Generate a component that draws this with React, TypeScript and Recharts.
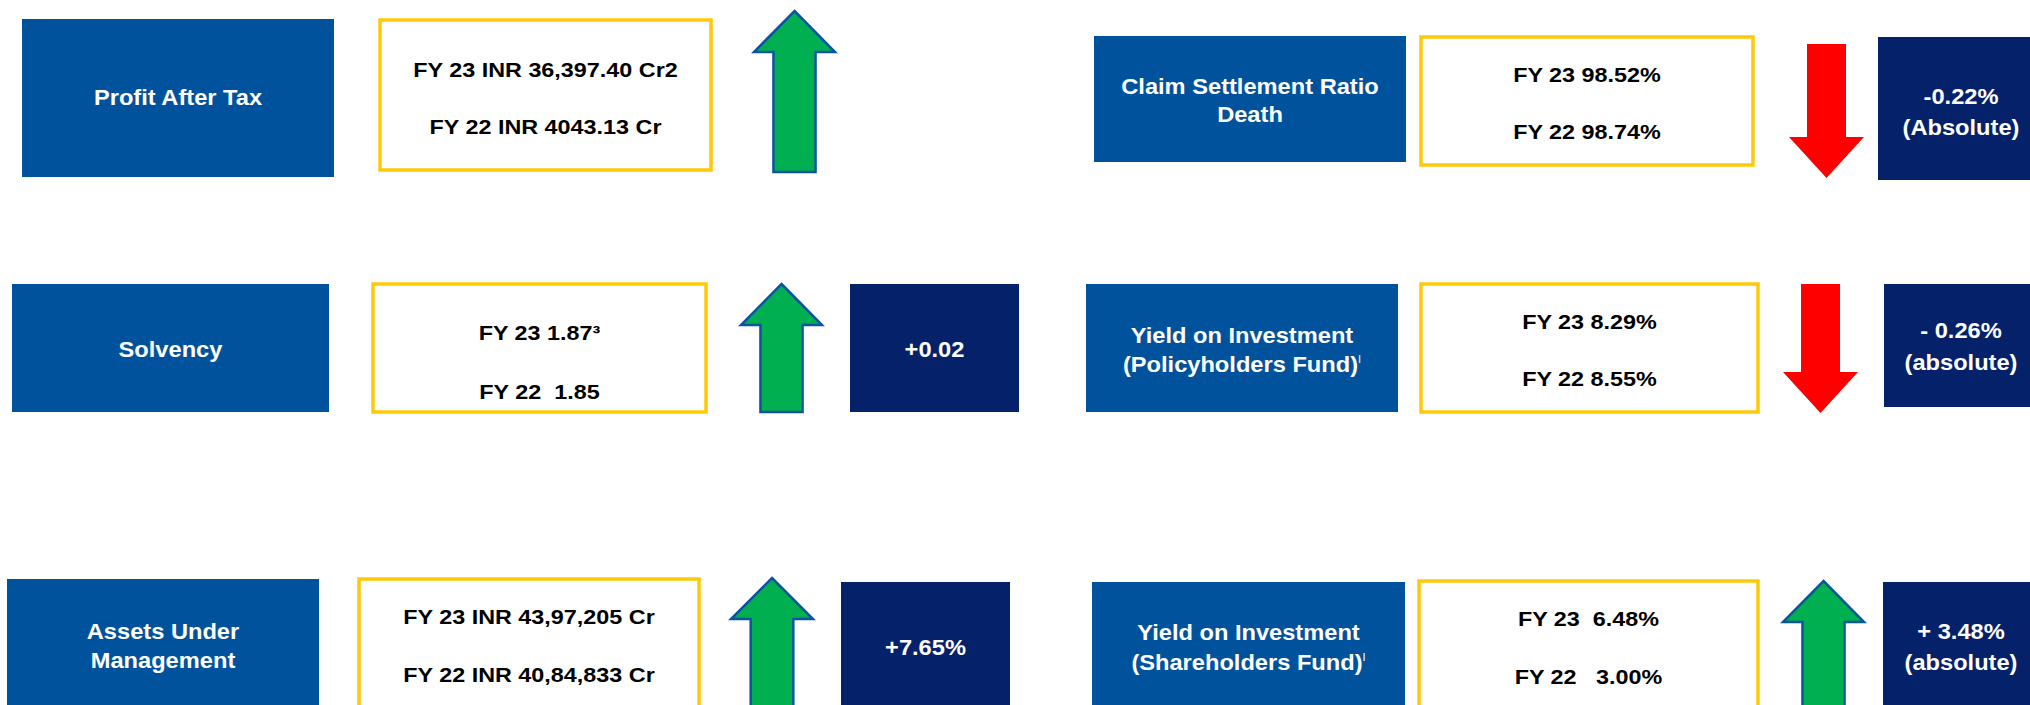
import React from 'react';
import { ComposedChart, XAxis, YAxis, ReferenceArea } from 'recharts';

// KPI content
const metrics = [
  'Profit After Tax',
  'Claim Settlement Ratio\nDeath',
  'Solvency',
  'Yield on Investment\n(Policyholders Fund)',
  'Assets Under\nManagement',
  'Yield on Investment\n(Shareholders Fund)',
];
const footnotes = ['', '', '', 'I', '', 'I'];
const fy23 = ['FY 23 INR 36,397.40 Cr2', 'FY 23 98.52%', 'FY 23 1.87³', 'FY 23 8.29%', 'FY 23 INR 43,97,205 Cr', 'FY 23  6.48%'];
const fy22 = ['FY 22 INR 4043.13 Cr', 'FY 22 98.74%', 'FY 22  1.85', 'FY 22 8.55%', 'FY 22 INR 40,84,833 Cr', 'FY 22   3.00%'];
const changes = ['', '-0.22%\n(Absolute)', '+0.02', '- 0.26%\n(absolute)', '+7.65%', '+ 3.48%\n(absolute)'];
const direction = ['up', 'down', 'up', 'down', 'up', 'up'];

// tile geometry in page pixels [x1, x2, y1, y2]
const labelBoxes = [[22, 334, 19, 177], [1094, 1406, 36, 162], [12, 329, 284, 412], [1086, 1398, 284, 412], [7, 319, 579, 720], [1092, 1405, 582, 720]];
const labelTextY = [[98], [87, 115], [350], [336, 365], [632, 661], [633, 663]];
const valueBoxes = [[380, 711, 20, 170], [1421, 1753, 37, 165], [373, 706, 284, 412], [1421, 1758, 284, 412], [359, 699, 579, 720], [1419, 1758, 581, 720]];
const valueTextY = [[70, 127], [75, 132], [333, 392], [322, 379], [617, 675], [619, 677]];
const arrowBoxes = [[754, 835, 11, 172], [1789, 1864, 44, 178], [741, 822, 284, 412], [1783, 1858, 284, 413], [731, 813, 578, 720], [1783, 1864, 581, 720]];
const changeBoxes = [null, [1878, 2044, 37, 180], [850, 1019, 284, 412], [1884, 2038, 284, 407], [841, 1010, 582, 720], [1883, 2039, 582, 720]];
const changeTextY = [[], [97, 128], [350], [331, 363], [648], [632, 663]];

const W = 2030;
const H = 705;
const FONT = '"Liberation Sans", Arial, sans-serif';
const BLUE = '#01529C';
const NAVY = '#04216A';
const YELLOW = '#FFC908';
const GREEN = '#00AF4F';
const RED = '#FF0000';
const EDGE = '#0B55A0';

const Lines = ({ cx, oy, ys, lines, fill, size, sx, foot }: any) => (
  <g>
    {lines.map((t: string, i: number) => (
      <text
        key={i}
        transform={`translate(${cx},${oy + ys[i]}) scale(${sx},1)`}
        textAnchor="middle"
        dominantBaseline="central"
        fontFamily={FONT}
        fontWeight="bold"
        fontSize={size}
        fill={fill}
        style={{ whiteSpace: 'pre' }}
      >
        {t}
        {foot && i === lines.length - 1 ? (
          <tspan fontSize={10} fontWeight="normal" dy={-6}>{foot}</tspan>
        ) : null}
      </text>
    ))}
  </g>
);

const tileShape = (fill: string, stroke: string | null, lines: string[], ys: number[], y1: number, textFill: string, size: number, sx: number, foot?: string) =>
  (p: any) => {
    const oy = p.y - y1;
    return (
      <g>
        <rect
          x={p.x}
          y={p.y}
          width={p.width}
          height={p.height}
          fill={fill}
          stroke={stroke || 'none'}
          strokeWidth={stroke ? 3.5 : 0}
        />
        <Lines cx={p.x + p.width / 2} oy={oy} ys={ys} lines={lines} fill={textFill} size={size} sx={sx} foot={foot} />
      </g>
    );
  };

const arrowShape = (dir: string) => (p: any) => {
  const { x, y, width: w, height: h } = p;
  const head = 41;
  const s = w * 0.26;
  const cx = x + w / 2;
  let pts;
  if (dir === 'up') {
    pts = [[cx, y], [x + w, y + head], [cx + s, y + head], [cx + s, y + h], [cx - s, y + h], [cx - s, y + head], [x, y + head]];
  } else {
    const b = y + h;
    pts = [[cx, b], [x + w, b - head], [cx + s, b - head], [cx + s, y], [cx - s, y], [cx - s, b - head], [x, b - head]];
  }
  return (
    <polygon
      points={pts.map((q) => q.join(',')).join(' ')}
      fill={dir === 'up' ? GREEN : RED}
      stroke={dir === 'up' ? EDGE : 'none'}
      strokeWidth={dir === 'up' ? 2.5 : 0}
      strokeLinejoin="miter"
    />
  );
};

export default function App() {
  return (
    <div style={{ position: 'absolute', left: 0, top: 0, width: W, height: H, background: '#fff' }}>
      <ComposedChart width={W} height={H} data={[]} margin={{ top: 0, right: 0, bottom: 0, left: 0 }}>
        <XAxis type="number" dataKey="x" domain={[0, W]} hide allowDataOverflow />
        <YAxis type="number" dataKey="y" domain={[0, H]} reversed hide allowDataOverflow />
        {metrics.map((m, i) => {
          const [x1, x2, y1, y2] = labelBoxes[i];
          return (
            <ReferenceArea
              key={`l${i}`}
              x1={x1} x2={x2} y1={y1} y2={y2}
              ifOverflow="visible"
              shape={tileShape(BLUE, null, m.split('\n'), labelTextY[i], y1, '#fff', 21.5, 1.1, footnotes[i])}
            />
          );
        })}
        {fy23.map((v, i) => {
          const [x1, x2, y1, y2] = valueBoxes[i];
          return (
            <ReferenceArea
              key={`v${i}`}
              x1={x1} x2={x2} y1={y1} y2={y2}
              ifOverflow="visible"
              shape={tileShape('#fff', YELLOW, [v, fy22[i]], valueTextY[i], y1, '#000', 20.5, 1.14)}
            />
          );
        })}
        {direction.map((d, i) => {
          const [x1, x2, y1, y2] = arrowBoxes[i];
          return (
            <ReferenceArea
              key={`a${i}`}
              x1={x1} x2={x2} y1={y1} y2={y2}
              ifOverflow="visible"
              shape={arrowShape(d)}
            />
          );
        })}
        {changes.map((c, i) => {
          const box = changeBoxes[i];
          if (!box || !c) return null;
          const [x1, x2, y1, y2] = box;
          return (
            <ReferenceArea
              key={`c${i}`}
              x1={x1} x2={x2} y1={y1} y2={y2}
              ifOverflow="visible"
              shape={tileShape(NAVY, null, c.split('\n'), changeTextY[i], y1, '#fff', 21.5, 1.1)}
            />
          );
        })}
      </ComposedChart>
    </div>
  );
}
